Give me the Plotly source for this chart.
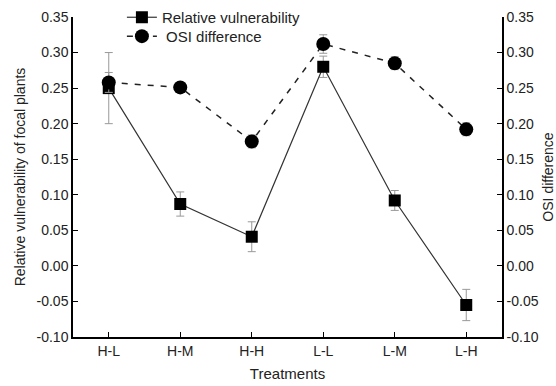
import plotly.graph_objects as go

treatments = ["H-L", "H-M", "H-H", "L-L", "L-M", "L-H"]
rel_vuln = [0.250, 0.087, 0.041, 0.280, 0.092, -0.055]
rel_err = [0.050, 0.017, 0.021, 0.015, 0.014, 0.022]
osi_diff = [0.258, 0.251, 0.175, 0.312, 0.285, 0.192]
osi_err = [0.014, 0.006, 0.009, 0.013, 0.009, 0.009]
ticks = [-0.10, -0.05, 0.00, 0.05, 0.10, 0.15, 0.20, 0.25, 0.30, 0.35]
tick_text = ["%.2f" % t for t in ticks]

FONT = "Liberation Sans, Arial, sans-serif"
TXT = "#222222"

fig = go.Figure()
fig.add_trace(go.Scatter(
    x=treatments, y=rel_vuln, name="Relative vulnerability",
    mode="lines+markers",
    line=dict(color="#333333", width=1.2),
    marker=dict(symbol="square", size=12, color="black"),
    error_y=dict(type="data", array=rel_err, color="#999999", thickness=1, width=4),
    yaxis="y", legend="legend"))
fig.add_trace(go.Scatter(
    x=treatments, y=osi_diff, name=" OSI difference",
    mode="lines+markers",
    line=dict(color="#222222", width=1.5, dash="6px,7px"),
    marker=dict(symbol="circle", size=14, color="black"),
    error_y=dict(type="data", array=osi_err, color="#999999", thickness=1, width=4),
    yaxis="y2", legend="legend2"))

axis_common = dict(range=[-0.10, 0.35], tickvals=ticks, ticktext=tick_text,
                   showgrid=False, zeroline=False, showline=True, linecolor="black",
                   linewidth=1.5, ticks="inside", ticklen=5, tickcolor="black",
                   tickfont=dict(family=FONT, size=14, color=TXT))

leg_common = dict(xanchor="left", yanchor="top", bgcolor="rgba(0,0,0,0)",
                  font=dict(family=FONT, size=15, color=TXT), itemwidth=30)

fig.update_layout(
    width=556, height=386,
    margin=dict(l=73, r=54, t=17, b=49, autoexpand=False),
    plot_bgcolor="white", paper_bgcolor="white",
    font=dict(family=FONT, size=14, color=TXT),
    xaxis=dict(range=[-0.5, 5.5], showgrid=False, zeroline=False, showline=True,
               linecolor="black", linewidth=1.5, ticks="inside", ticklen=5,
               tickcolor="black", tickfont=dict(family=FONT, size=14, color=TXT),
               ticklabelstandoff=0,
               title=dict(text="Treatments", font=dict(family=FONT, size=15, color=TXT), standoff=11)),
    yaxis=dict(**axis_common,
               title=dict(text="Relative vulnerability of focal plants",
                          font=dict(family=FONT, size=14, color=TXT), standoff=8)),
    yaxis2=dict(**axis_common, overlaying="y", side="right",
                title=dict(text="OSI difference", font=dict(family=FONT, size=14, color=TXT), standoff=8)),
    legend=dict(x=0.114, y=1.05, **leg_common),
    legend2=dict(x=0.114, y=0.991, **leg_common),
    showlegend=True,
)

fig.write_html("out.html")
